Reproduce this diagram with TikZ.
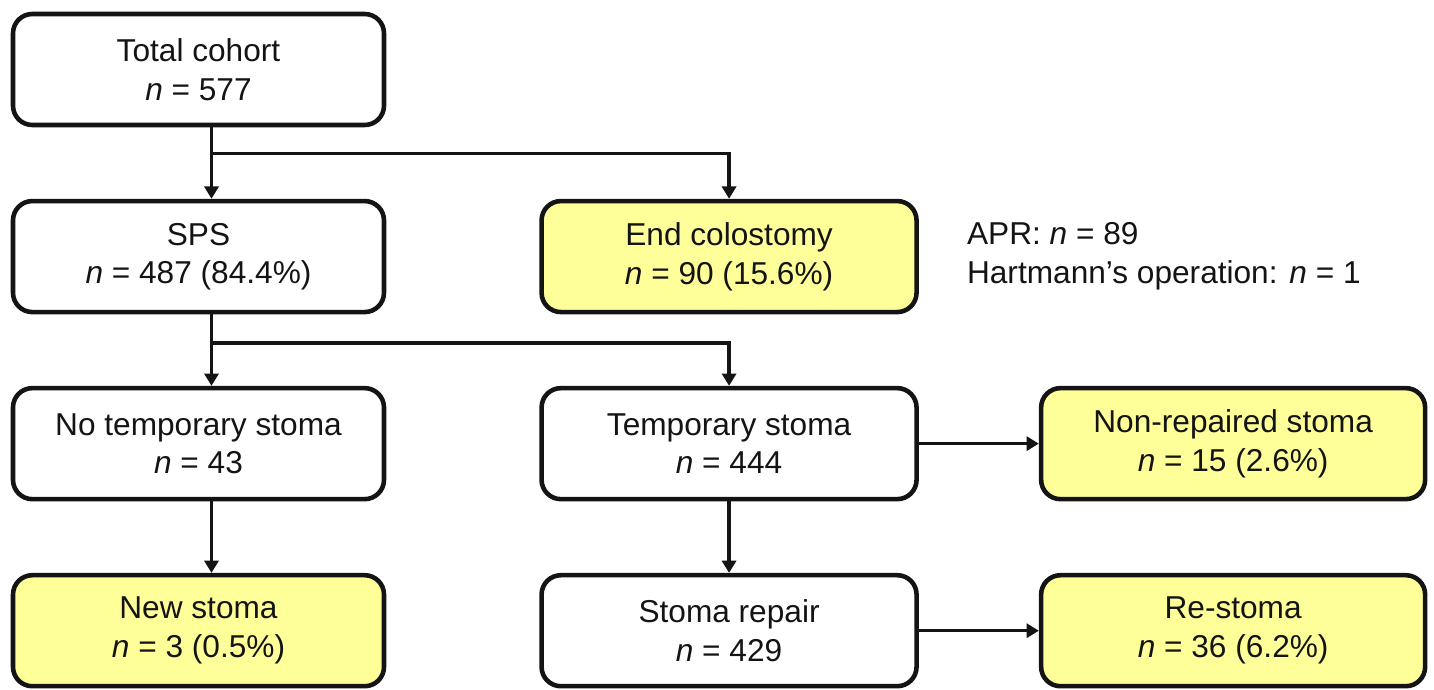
\documentclass[tikz,border=0pt]{standalone}
\usepackage{fontspec}
\setmainfont{Liberation Sans}
\usepackage{xcolor}
\definecolor{paleyellow}{RGB}{255,255,153}
\definecolor{ink}{RGB}{20,20,20}
\usepackage{tikz}
\usetikzlibrary{arrows.meta,positioning,calc}

\begin{document}
\begin{tikzpicture}[
  box/.style={rectangle,draw=ink,line width=2.6pt,rounded corners=11pt,
              minimum width=7.42cm,minimum height=2.22cm,
              align=center,text=ink,
              font=\fontsize{18}{22}\selectfont},
  hit/.style={box,fill=paleyellow},
  arr/.style={draw=ink,line width=2pt,-{Triangle[length=7pt,width=8pt]}},
  node distance=1.43cm,
]
  \useasboundingbox (0,0) rectangle (28.68,-13.8);
  % first column
  \node[box](total) at (3.97,-1.39){Total cohort\\\textit{n} = 577};
  \node[box,below=of total](sps){SPS\\\textit{n} = 487 (84.4\%)};
  \node[box,below=of sps](notemp){No temporary stoma\\\textit{n} = 43};
  \node[hit,below=of notemp](newstoma){New stoma\\\textit{n} = 3 (0.5\%)};
  % second column
  \node[hit,minimum width=7.5cm,right=3.06cm of sps](endcol){End colostomy\\\textit{n} = 90 (15.6\%)};
  \node[box,minimum width=7.5cm,right=3.06cm of notemp](temp){Temporary stoma\\\textit{n} = 444};
  \node[box,minimum width=7.5cm,right=3.06cm of newstoma](repair){Stoma repair\\\textit{n} = 429};
  % third column
  \node[hit,minimum width=7.68cm,right=2.4cm of temp](nonrep){Non-repaired stoma\\\textit{n} = 15 (2.6\%)};
  \node[hit,minimum width=7.68cm,right=2.4cm of repair](restoma){Re-stoma\\\textit{n} = 36 (6.2\%)};
  \node[right=0.84cm of endcol,align=left,text=ink,
        font=\fontsize{18}{22}\selectfont](apr){APR: \textit{n} = 89\\Hartmann’s operation: \textit{n} = 1};
  % connectors
  \coordinate (split1) at ($([xshift=0.26cm]total.south)!0.37!([xshift=0.26cm]sps.north)$);
  \coordinate (split2) at ($([xshift=0.26cm]sps.south)!0.4!([xshift=0.26cm]notemp.north)$);
  \draw[arr] ([xshift=0.26cm]total.south) -- ([xshift=0.26cm]sps.north);
  \draw[arr] (split1) -| (endcol.north);
  \draw[arr] ([xshift=0.26cm]sps.south) -- ([xshift=0.26cm]notemp.north);
  \draw[arr] (split2) -| (temp.north);
  \draw[arr] ([xshift=0.26cm]notemp.south) -- ([xshift=0.26cm]newstoma.north);
  \draw[arr] (temp) -- (repair);
  \draw[arr] (temp) -- (nonrep);
  \draw[arr] (repair) -- (restoma);
\end{tikzpicture}
\end{document}
